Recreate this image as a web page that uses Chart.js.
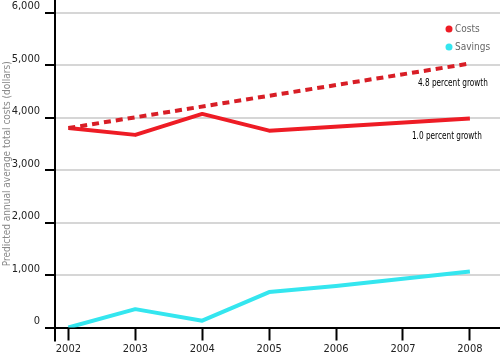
<!DOCTYPE html>
<html>
<head>
<meta charset="utf-8">
<script src="https://cdn.jsdelivr.net/npm/chart.js@4.4.1/dist/chart.umd.min.js"></script>
<style>
  html, body { margin: 0; padding: 0; background: #fff; }
  #wrap { width: 500px; height: 357px; position: relative; }
</style>
</head>
<body>
<div id="wrap"><canvas id="c"></canvas></div>
<script>
// ---- data ----
const years = [2002, 2003, 2004, 2005, 2006, 2007, 2008];
const yTicks = [0, 1000, 2000, 3000, 4000, 5000, 6000];
const costs = [3800, 3670, 4070, 3750, null, null, 3980];
const costsProjected = [3800, null, null, null, null, null, 5030];
const savings = [0, 350, 130, 675, 790, 930, 1065];
const seriesNames = ['Costs', 'Savings'];
const growthLabels = ['4.8 percent growth', '1.0 percent growth'];
const yTitle = 'Predicted annual average total costs (dollars)';

const RED = '#ee1c25';
const RED_DASH = '#d81e26';
const CYAN = '#34e6ef';
const FONT = '"DejaVu Sans Condensed", "Liberation Sans Narrow", "Liberation Sans", sans-serif';

const toPts = arr => arr.map((v, i) => ({ x: years[i], y: v }));

function condensedText(ctx, text, xRight, yMid, targetW) {
  const w = ctx.measureText(text).width;
  const k = Math.min(1, targetW / w);
  ctx.save();
  ctx.translate(xRight, yMid);
  ctx.scale(k, 1);
  ctx.textAlign = 'right';
  ctx.textBaseline = 'middle';
  ctx.fillText(text, 0, 0);
  ctx.restore();
}

const extras = {
  id: 'extras',
  afterDraw(chart) {
    const ctx = chart.ctx;
    const x = chart.scales.x, y = chart.scales.y;
    const a = chart.chartArea;
    ctx.save();
    // y axis extension below x axis
    ctx.strokeStyle = '#000';
    ctx.lineWidth = 2;
    ctx.beginPath();
    ctx.moveTo(a.left, a.bottom);
    ctx.lineTo(a.left, a.bottom + 14);
    ctx.stroke();

    // growth annotations anchored to end points
    ctx.fillStyle = '#000';
    ctx.font = '10.5px ' + FONT;
    const last = years.length - 1;
    const px1 = x.getPixelForValue(years[last]);
    condensedText(ctx, growthLabels[0], px1 + 18, y.getPixelForValue(costsProjected[last]) + 20, 70);
    condensedText(ctx, growthLabels[1], px1 + 12, y.getPixelForValue(costs[last]) + 18, 70);

    // legend
    const cols = [RED, CYAN];
    ctx.textAlign = 'left';
    ctx.textBaseline = 'middle';
    ctx.font = '10px ' + FONT;
    seriesNames.forEach((n, i) => {
      const cy = a.top + 29 + i * 18;
      const cx = a.right - 51;
      ctx.fillStyle = cols[i];
      ctx.beginPath();
      ctx.arc(cx, cy, 3.5, 0, Math.PI * 2);
      ctx.fill();
      ctx.fillStyle = '#666';
      ctx.fillText(n, cx + 6, cy);
    });
    ctx.restore();
  }
};

new Chart(document.getElementById('c'), {
  type: 'line',
  data: {
    datasets: [
      { label: 'Costs projected', data: toPts(costsProjected), borderColor: RED_DASH, borderWidth: 4,
        borderDash: [7, 5], spanGaps: true, pointRadius: 0, tension: 0 },
      { label: seriesNames[0], data: toPts(costs), borderColor: RED, borderWidth: 4,
        spanGaps: true, pointRadius: 0, tension: 0, borderJoinStyle: 'round' },
      { label: seriesNames[1], data: toPts(savings), borderColor: CYAN, borderWidth: 4,
        pointRadius: 0, tension: 0, borderJoinStyle: 'round' }
    ]
  },
  options: {
    responsive: true,
    maintainAspectRatio: false,
    animation: false,
    layout: { padding: 0 },
    plugins: { legend: { display: false }, tooltip: { enabled: false } },
    scales: {
      x: {
        type: 'linear',
        min: 2001.8,
        max: 2008.45,
        afterBuildTicks: s => { s.ticks = years.map(v => ({ value: v })); },
        afterFit: s => { s.height = 29.5; s.paddingLeft = 0; s.paddingRight = 0; },
        grid: { drawOnChartArea: false, drawTicks: true, tickLength: 13, tickColor: '#000', tickWidth: 2 },
        border: { display: true, color: '#000', width: 2 },
        ticks: { autoSkip: false, maxRotation: 0, padding: 2, color: '#222',
                 font: { family: FONT, size: 11 }, callback: v => String(v) }
      },
      y: {
        min: 0,
        max: 6240,
        afterBuildTicks: s => { s.ticks = yTicks.map(v => ({ value: v })); },
        afterFit: s => { s.width = 55; s.paddingTop = 0; s.paddingBottom = 0; },
        grid: {
          color: c => (c.tick && c.tick.value === 0) ? 'rgba(0,0,0,0)' : '#d6d6d6',
          lineWidth: 2, drawTicks: true, tickLength: 10, tickColor: '#000', tickWidth: 2
        },
        border: { display: true, color: '#000', width: 2 },
        ticks: { padding: 5, labelOffset: -6, color: '#222', font: { family: FONT, size: 11 },
                 callback: v => v.toLocaleString('en-US') },
        title: { display: true, text: yTitle, color: '#8a8a8a', padding: { top: 1, bottom: 0 },
                 font: { family: FONT, size: 10 } }
      }
    }
  },
  plugins: [extras]
});
</script>
</body>
</html>
